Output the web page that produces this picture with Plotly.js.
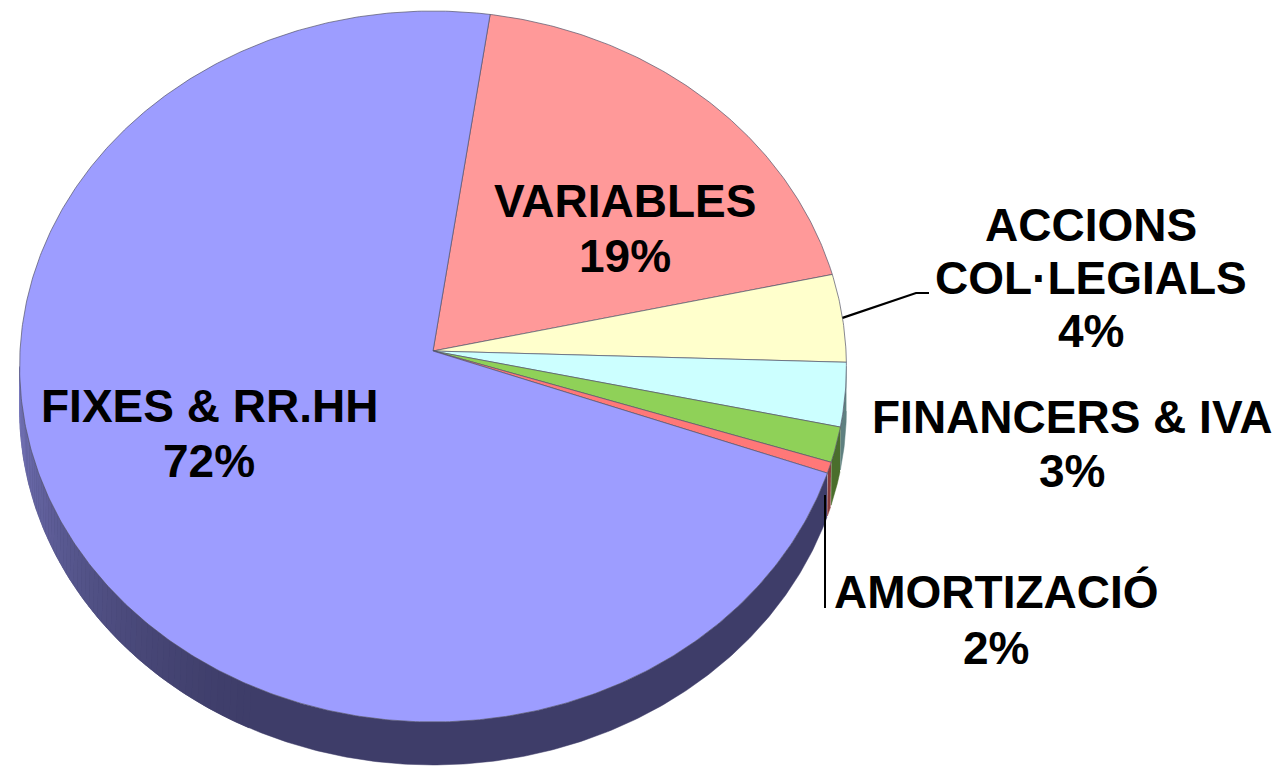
<!DOCTYPE html>
<html>
<head>
<meta charset="utf-8">
<script src="https://cdn.plot.ly/plotly-3.0.1.min.js"></script>
<style>html,body{margin:0;padding:0;background:#fff;}#chart{width:1284px;height:766px;}</style>
</head>
<body>
<div id="chart"></div>
<script>
// ---- data (clockwise from the top, starting with VARIABLES) ----
const categories = ['VARIABLES', 'ACCIONS COL·LEGIALS', 'FINANCERS & IVA', 'AMORTIZACIÓ', '', 'FIXES & RR.HH'];
const values = [19.2, 4.0, 2.9, 1.6, 0.5, 71.8];
const labelLines = [['VARIABLES'], ['ACCIONS', 'COL·LEGIALS'], ['FINANCERS & IVA'], ['AMORTIZACIÓ'], [], ['FIXES & RR.HH']];
const topColors = ['#FF9999', '#FFFFCC', '#CCFFFF', '#8FD158', '#FF7878', '#9D9DFF'];
const sideColors = ['#804C4C', '#80805F', '#5F8080', '#4A6E2C', '#8A3C3C', '#3E3D69'];

// ---- geometry of the tilted pie (pixel space) ----
const X0 = 433, Y0 = 351;      // apex
const RA = 413, RB = 354.8;    // horizontal / vertical radius
const K = 0.0436;              // perspective factor
const DEPTH = 43;
const START = 8.3;             // degrees clockwise from top
const VIS_A = 92.5, VIS_B = 267.5;

function P(deg) {
  const t = deg * Math.PI / 180;
  const u = Math.sin(t), v = Math.cos(t);
  const w = 1 + K * v;
  return [X0 + RA * u / w, Y0 - RB * v / w];
}
function hex2rgb(h){return [parseInt(h.substr(1,2),16),parseInt(h.substr(3,2),16),parseInt(h.substr(5,2),16)];}
function mix(a,b,t){const A=hex2rgb(a),B=hex2rgb(b);return 'rgb('+A.map((c,i)=>Math.round(c+(B[i]-c)*t)).join(',')+')';}
function band(lo, hi, stepDeg) {
  const xs = [], ys = [];
  for (let d = lo; d <= hi + 1e-9; d += stepDeg) { const p = P(Math.min(d, hi)); xs.push(p[0]); ys.push(p[1]); }
  for (let d = hi; d >= lo - 1e-9; d -= stepDeg) { const p = P(Math.max(d, lo)); xs.push(p[0]); ys.push(p[1] + DEPTH); }
  return [xs, ys];
}

const total = values.reduce((s, v) => s + v, 0);
const angles = [];
let acc = START;
values.forEach(v => { const a = acc, b = acc + v / total * 360; angles.push([a, b]); acc = b; });

const traces = [];
// side walls
angles.forEach(([a, b], i) => {
  const lo = Math.max(a, VIS_A), hi = Math.min(b, VIS_B);
  if (hi <= lo) return;
  // base band in the dark side colour
  const [bx, by] = band(lo, hi, 0.5);
  traces.push({x: bx, y: by, type: 'scatter', mode: 'lines', fill: 'toself', fillcolor: sideColors[i],
    line: {color: sideColors[i], width: 0.5}, hoverinfo: 'skip', showlegend: false});
  if (i === 5) {
    // lighter shading towards the left end of the wall
    const from = 205, step = 1;
    for (let s = Math.max(lo, from); s < hi; s += step) {
      const e = Math.min(s + step, hi);
      const m = (s + e) / 2;
      const t = Math.max(0, Math.min(1, (m - from) / (VIS_B - from)));
      const col = mix(sideColors[i], '#7878BE', Math.pow(t, 1.4));
      const [sx, sy] = band(s, e + 0.3 > hi ? hi : e + 0.3, 0.5);
      traces.push({x: sx, y: sy, type: 'scatter', mode: 'lines', fill: 'toself', fillcolor: col,
        line: {color: col, width: 0.6}, hoverinfo: 'skip', showlegend: false});
    }
  }
});
// top faces
angles.forEach(([a, b], i) => {
  const xs = [X0], ys = [Y0];
  const n = Math.max(2, Math.ceil((b - a) / 0.5));
  for (let j = 0; j <= n; j++) { const p = P(a + (b - a) * j / n); xs.push(p[0]); ys.push(p[1]); }
  xs.push(X0); ys.push(Y0);
  traces.push({x: xs, y: ys, type: 'scatter', mode: 'lines', fill: 'toself', fillcolor: topColors[i],
    line: {color: '#55556a', width: 0.7}, name: categories[i], text: categories[i], hoverinfo: 'text', showlegend: false});
});

// leader line for ACCIONS (from slice middle on the rim)
const mAcc = P((angles[1][0] + angles[1][1]) / 2);
traces.push({x: [mAcc[0], 916, 929], y: [mAcc[1], 293, 293], type: 'scatter', mode: 'lines',
  line: {color: '#000', width: 2.2}, hoverinfo: 'skip', showlegend: false});
// leader line for AMORTIZACIÓ
traces.push({x: [825, 825], y: [495, 608], type: 'scatter', mode: 'lines',
  line: {color: '#000', width: 2}, hoverinfo: 'skip', showlegend: false});

// labels
const labelPos = [[625, 228], [1091, 278], [1072, 444], [996, 620], null, [209, 433]];
const lineGap = [55, 53, 54, 56, 0, 55];
const annotations = [];
angles.forEach((ab, i) => {
  if (!labelPos[i]) return;
  const pct = Math.round(values[i] / total * 100) + '%';
  const lines = labelLines[i].concat([pct]);
  const n = lines.length;
  lines.forEach((t, j) => {
    annotations.push({x: labelPos[i][0], y: labelPos[i][1] + (j - (n - 1) / 2) * lineGap[i],
      xref: 'x', yref: 'y', text: '<b>' + t + '</b>', showarrow: false, xanchor: 'center', yanchor: 'middle',
      font: {family: 'Liberation Sans, Arial, sans-serif', size: 46, color: '#000'}});
  });
});

const layout = {
  width: 1284, height: 766,
  margin: {l: 0, r: 0, t: 0, b: 0},
  paper_bgcolor: '#ffffff', plot_bgcolor: '#ffffff',
  xaxis: {range: [0, 1284], visible: false, fixedrange: true},
  yaxis: {range: [766, 0], visible: false, fixedrange: true},
  showlegend: false,
  annotations: annotations
};
Plotly.newPlot('chart', traces, layout, {displayModeBar: false, staticPlot: true});
</script>
</body>
</html>
